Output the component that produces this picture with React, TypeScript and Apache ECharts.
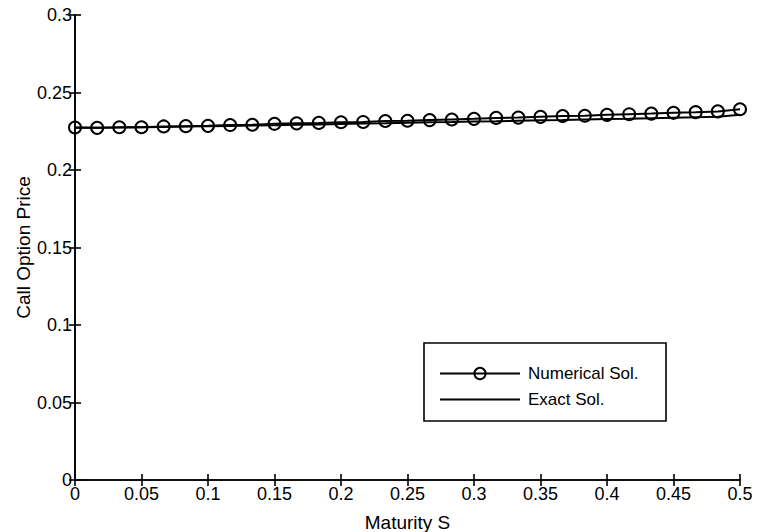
import React, { useEffect, useRef } from "react";
import * as echarts from "echarts";

const maturity: number[] = [
  0, 0.01667, 0.03333, 0.05, 0.06667, 0.08333, 0.1, 0.11667, 0.13333, 0.15,
  0.16667, 0.18333, 0.2, 0.21667, 0.23333, 0.25, 0.26667, 0.28333, 0.3, 0.31667,
  0.33333, 0.35, 0.36667, 0.38333, 0.4, 0.41667, 0.43333, 0.45, 0.46667, 0.48333, 0.5,
];

const numericalSol: number[] = [
  0.2274, 0.2272, 0.2276, 0.2276, 0.2281, 0.2283, 0.2285, 0.229, 0.2292, 0.2298,
  0.2301, 0.2304, 0.2308, 0.231, 0.2316, 0.2318, 0.2322, 0.2326, 0.233, 0.2336,
  0.2338, 0.2343, 0.2348, 0.235, 0.2356, 0.236, 0.2364, 0.2369, 0.2373, 0.2378, 0.2392,
];

const exactSol: number[] = [
  0.2272, 0.2273, 0.2274, 0.2276, 0.2278, 0.228, 0.2282, 0.2284, 0.2287, 0.2289,
  0.2292, 0.2294, 0.2297, 0.23, 0.2302, 0.2305, 0.2308, 0.231, 0.2313, 0.2315,
  0.2318, 0.2321, 0.2323, 0.2326, 0.2329, 0.2331, 0.2334, 0.2337, 0.234, 0.2343, 0.2356,
];

const seriesNames: string[] = ["Numerical Sol.", "Exact Sol."];
const xAxisName = "Maturity S";
const yAxisName = "Call Option Price";

const FONT = "'Liberation Sans', Arial, Helvetica, sans-serif";

export default function App() {
  const ref = useRef<HTMLDivElement>(null);

  useEffect(() => {
    if (!ref.current) return;
    const chart = echarts.init(ref.current, undefined, { renderer: "svg" });
    const axisLine = { show: true, lineStyle: { color: "#000", width: 1.6 } };
    const tick = { show: true, inside: true, length: 6, lineStyle: { color: "#000", width: 1.6 } };
    chart.setOption({
      animation: false,
      backgroundColor: "#fff",
      textStyle: { fontFamily: FONT },
      grid: {
        left: 75,
        right: 18,
        top: 15,
        bottom: 52,
        containLabel: false,
        outerBoundsMode: "none",
      },
      xAxis: [
        {
          type: "value",
          min: 0,
          max: 0.5,
          interval: 0.05,
          name: xAxisName,
          nameLocation: "middle",
          nameGap: 33,
          nameMoveOverlap: false,
          nameTextStyle: { color: "#000", fontSize: 19, fontFamily: FONT },
          axisLine,
          axisTick: tick,
          axisLabel: { color: "#000", fontSize: 18, margin: 5, fontFamily: FONT },
          splitLine: { show: false },
        },
        {
          type: "value",
          position: "top",
          min: 0,
          max: 0.5,
          interval: 0.05,
          axisLine,
          axisTick: tick,
          axisLabel: { show: false },
          splitLine: { show: false },
        },
      ],
      yAxis: [
        {
          type: "value",
          min: 0,
          max: 0.3,
          interval: 0.05,
          name: yAxisName,
          nameLocation: "middle",
          nameGap: 42,
          nameMoveOverlap: false,
          nameTextStyle: { color: "#000", fontSize: 19, fontFamily: FONT },
          axisLine,
          axisTick: tick,
          axisLabel: { color: "#000", fontSize: 18, margin: 3, fontFamily: FONT },
          splitLine: { show: false },
        },
        {
          type: "value",
          position: "right",
          min: 0,
          max: 0.3,
          interval: 0.05,
          axisLine,
          axisTick: tick,
          axisLabel: { show: false },
          splitLine: { show: false },
        },
      ],
      graphic: [
        {
          type: "rect",
          z: 3,
          shape: { x: 424, y: 343, width: 242, height: 78 },
          style: { fill: "#fff", stroke: "#000", lineWidth: 1.6 },
        },
      ],
      legend: {
        z: 5,
        orient: "vertical",
        left: 439,
        top: 365,
        padding: 0,
        itemWidth: 80,
        itemHeight: 14,
        itemGap: 9,
        textStyle: { color: "#000", fontSize: 17, fontFamily: FONT, padding: [0, 0, 0, 3] },
        data: [
          { name: seriesNames[0] },
          { name: seriesNames[1], itemStyle: { color: "rgba(0,0,0,0)", borderWidth: 0, opacity: 0 } },
        ],
      },
      series: [
        {
          name: seriesNames[0],
          type: "line",
          data: maturity.map((s, i) => [s, numericalSol[i]]),
          symbol: "circle",
          symbolSize: 12,
          showAllSymbol: true,
          itemStyle: { color: "rgba(0,0,0,0)", borderColor: "#000", borderWidth: 2 },
          lineStyle: { color: "#000", width: 2 },
          z: 3,
        },
        {
          name: seriesNames[1],
          type: "line",
          data: maturity.map((s, i) => [s, exactSol[i]]),
          symbol: "none",
          itemStyle: { color: "#000" },
          lineStyle: { color: "#000", width: 2 },
          z: 2,
        },
      ],
    });
    return () => chart.dispose();
  }, []);

  return (
    <div
      ref={ref}
      style={{ position: "absolute", left: 0, top: 0, width: 758, height: 532 }}
    />
  );
}
